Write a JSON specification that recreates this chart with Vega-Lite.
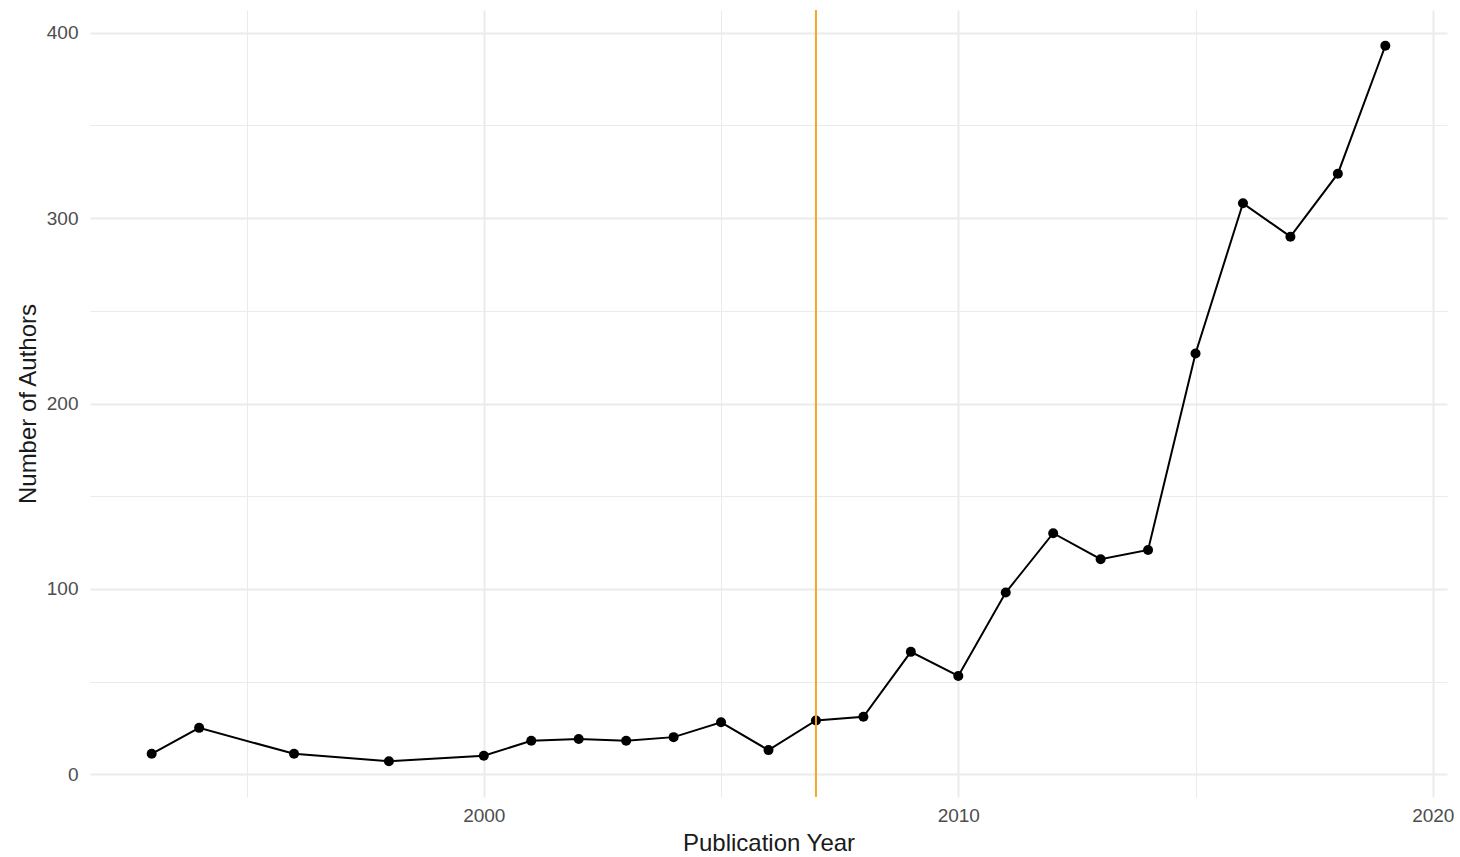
{
  "$schema": "https://vega.github.io/schema/vega-lite/v6.json",
  "width": 1357,
  "height": 787,
  "autosize": "none",
  "padding": {"left": 90, "top": 10, "right": 13, "bottom": 60},
  "background": "white",
  "config": {
    "view": {"stroke": null},
    "font": "Liberation Sans",
    "axis": {
      "ticks": false,
      "domain": false,
      "gridColor": "#EBEBEB",
      "labelColor": "#4D4D4D",
      "labelFontSize": 19,
      "labelFont": "Liberation Sans",
      "titleFont": "Liberation Sans",
      "titleFontSize": 24,
      "titleFontWeight": "normal",
      "titleColor": "#1a1a1a",
      "labelFlush": false,
      "labelOverlap": false
    }
  },
  "data": {
    "values": [
      {"year": 1993, "authors": 11},
      {"year": 1994, "authors": 25},
      {"year": 1996, "authors": 11},
      {"year": 1998, "authors": 7},
      {"year": 2000, "authors": 10},
      {"year": 2001, "authors": 18},
      {"year": 2002, "authors": 19},
      {"year": 2003, "authors": 18},
      {"year": 2004, "authors": 20},
      {"year": 2005, "authors": 28},
      {"year": 2006, "authors": 13},
      {"year": 2007, "authors": 29},
      {"year": 2008, "authors": 31},
      {"year": 2009, "authors": 66},
      {"year": 2010, "authors": 53},
      {"year": 2011, "authors": 98},
      {"year": 2012, "authors": 130},
      {"year": 2013, "authors": 116},
      {"year": 2014, "authors": 121},
      {"year": 2015, "authors": 227},
      {"year": 2016, "authors": 308},
      {"year": 2017, "authors": 290},
      {"year": 2018, "authors": 324},
      {"year": 2019, "authors": 393}
    ]
  },
  "layer": [
    {
      "mark": {"type": "line", "color": "black", "strokeWidth": 2},
      "encoding": {
        "x": {
          "field": "year", "type": "quantitative",
          "scale": {"domain": [1991.7, 2020.3], "nice": false, "zero": false},
          "axis": {"orient": "top", "values": [1995, 2005, 2015], "labels": false, "title": null, "grid": true, "gridWidth": 1}
        },
        "y": {
          "field": "authors", "type": "quantitative",
          "scale": {"domain": [-12.3, 412.3], "nice": false, "zero": false},
          "axis": {"orient": "right", "values": [50, 150, 250, 350], "labels": false, "title": null, "grid": true, "gridWidth": 1}
        }
      }
    },
    {
      "mark": {"type": "point", "filled": true, "color": "black", "opacity": 1, "size": 100},
      "encoding": {
        "x": {
          "field": "year", "type": "quantitative",
          "axis": {"orient": "bottom", "values": [2000, 2010, 2020], "format": "d", "title": "Publication Year", "grid": true, "gridWidth": 2, "labelPadding": 9, "titlePadding": 6}
        },
        "y": {
          "field": "authors", "type": "quantitative",
          "axis": {"orient": "left", "values": [0, 100, 200, 300, 400], "title": "Number of Authors", "grid": true, "gridWidth": 2, "labelPadding": 12, "titlePadding": 6}
        }
      }
    },
    {
      "data": {"values": [{"year": 2007}]},
      "mark": {"type": "rule", "color": "#F5A623", "strokeWidth": 2},
      "encoding": {
        "x": {"field": "year", "type": "quantitative", "axis": null}
      }
    }
  ],
  "resolve": {"axis": {"x": "independent", "y": "independent"}}
}
